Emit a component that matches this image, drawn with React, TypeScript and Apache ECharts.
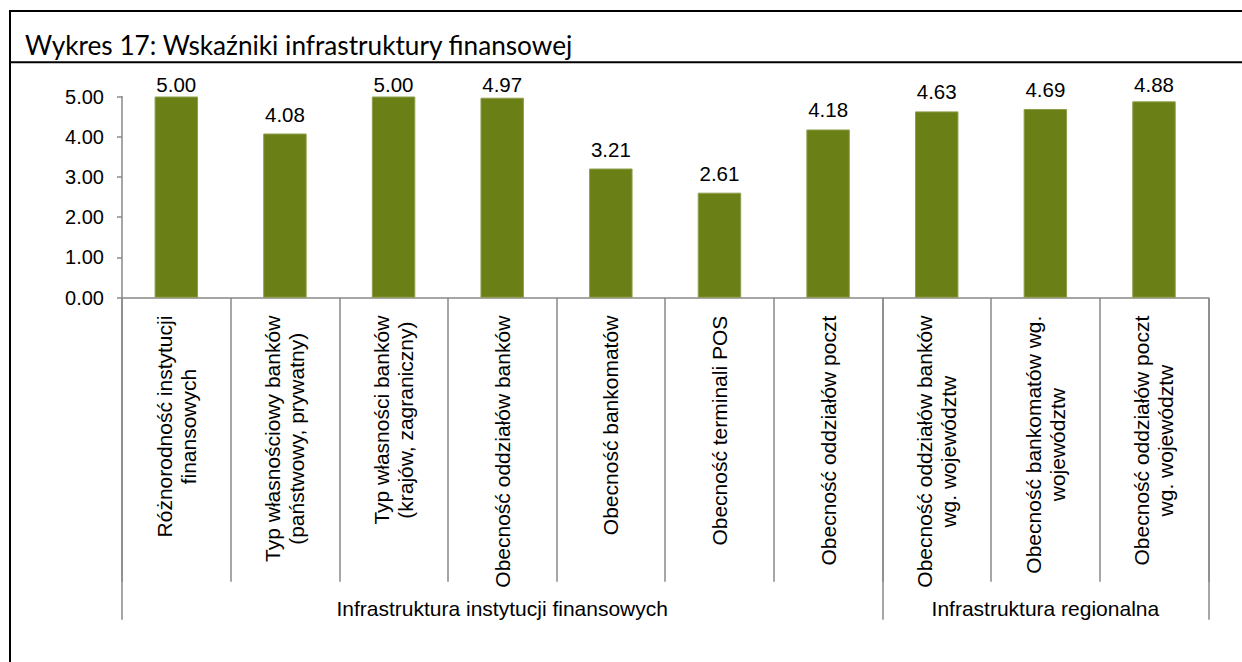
import React, { useEffect, useRef } from "react";
import * as echarts from "echarts";

const TITLE = "Wykres 17: Wskaźniki infrastruktury finansowej";

const categories: string[] = [
  "Różnorodność instytucji\nfinansowych",
  "Typ własnościowy banków\n(państwowy, prywatny)",
  "Typ własności banków\n(krajów, zagraniczny)",
  "Obecność oddziałów banków",
  "Obecność bankomatów",
  "Obecność terminali POS",
  "Obecność oddziałów poczt",
  "Obecność oddziałów banków\nwg. województw",
  "Obecność bankomatów wg.\nwojewództw",
  "Obecność oddziałów poczt\nwg. województw",
];

const values: number[] = [5.0, 4.08, 5.0, 4.97, 3.21, 2.61, 4.18, 4.63, 4.69, 4.88];

const groupNames: string[] = [
  "Infrastruktura instytucji finansowych",
  "Infrastruktura regionalna",
];
const groupSpans: number[] = [7, 3];

const yTicks = { min: 0, max: 5, interval: 1 };

const FONT = "'Liberation Sans', Arial, sans-serif";
const CAT_FONT_SIZE = 21;
const BAR_COLOR = "#6B7F17";
const AXIS_COLOR = "#888888";

function measure(text: string, size: number): number {
  const c = document.createElement("canvas");
  const ctx = c.getContext("2d");
  if (!ctx) return text.length * size * 0.5;
  ctx.font = `${size}px 'Liberation Sans', Arial, sans-serif`;
  return ctx.measureText(text).width;
}

export default function App() {
  const ref = useRef<HTMLDivElement>(null);

  useEffect(() => {
    if (!ref.current) return;
    const chart = echarts.init(ref.current, undefined, { renderer: "svg" });

    const boundaryIdx: number[] = [];
    const centers: Record<number, string> = {};
    let s = 0;
    groupSpans.forEach((span, i) => {
      boundaryIdx.push(s);
      centers[Math.round(s + (span - 1) / 2)] = groupNames[i];
      s += span;
    });

    // Centre-aligned rotated labels (lines centred on each other); a
    // per-label left padding moves each block so that its end sits just
    // below the axis line.
    const LABEL_MARGIN = 170;
    const END_GAP = 18;
    const catData = categories.map((cat) => {
      const maxW = Math.max(...cat.split("\n").map((l) => measure(l, CAT_FONT_SIZE)));
      const pad = Math.max(0, 2 * (LABEL_MARGIN - END_GAP) - maxW);
      return {
        value: cat,
        textStyle: {
          align: "center",
          padding: [0, 0, 0, pad],
          fontFamily: FONT,
          fontSize: CAT_FONT_SIZE,
          lineHeight: 24,
          color: "#000000",
        },
      };
    });

    const option: any = {
      animation: false,
      backgroundColor: "#ffffff",
      title: {
        text: TITLE,
        left: 25,
        top: 31.5,
        padding: 0,
        textStyle: {
          fontFamily: "Lato, 'Open Sans', sans-serif",
          fontSize: 26.2,
          fontWeight: "normal",
          color: "#000000",
        },
      },
      graphic: [
        {
          type: "rect",
          shape: { x: 10, y: 11, width: 1260, height: 720 },
          style: { fill: "none", stroke: "#000000", lineWidth: 2 },
          silent: true,
        },
        {
          type: "line",
          shape: { x1: 10, y1: 62.3, x2: 1242, y2: 62.3 },
          style: { stroke: "#000000", lineWidth: 2 },
          silent: true,
        },
      ],
      grid: {
        left: 122,
        right: 33.7,
        top: 96.5,
        bottom: 364.3,
        containLabel: false,
        outerBoundsMode: "none",
      },
      xAxis: [
        {
          type: "category",
          data: catData,
          position: "bottom",
          axisLine: { show: true, lineStyle: { color: AXIS_COLOR, width: 1.5 } },
          axisTick: {
            show: true,
            interval: 0,
            length: 284,
            lineStyle: { color: AXIS_COLOR, width: 1.5 },
          },
          axisLabel: {
            interval: 0,
            rotate: 90,
            align: "center",
            margin: LABEL_MARGIN,
            color: "#000000",
            fontFamily: FONT,
            fontSize: CAT_FONT_SIZE,
            lineHeight: 24,
          },
          splitLine: { show: false },
        },
        {
          type: "category",
          data: categories,
          position: "bottom",
          offset: 0,
          axisLine: { show: false },
          axisTick: {
            show: true,
            interval: (index: number) => boundaryIdx.indexOf(index) >= 0,
            length: 322,
            lineStyle: { color: AXIS_COLOR, width: 1.5 },
          },
          axisLabel: {
            interval: 0,
            margin: 300,
            color: "#000000",
            fontFamily: FONT,
            fontSize: CAT_FONT_SIZE,
            formatter: (_v: string, idx: number) => centers[idx] || "",
          },
          splitLine: { show: false },
        },
      ],
      yAxis: {
        type: "value",
        min: yTicks.min,
        max: yTicks.max,
        interval: yTicks.interval,
        axisLine: { show: true, lineStyle: { color: AXIS_COLOR, width: 1.5 } },
        axisTick: {
          show: true,
          length: 5,
          lineStyle: { color: AXIS_COLOR, width: 1.5 },
        },
        axisLabel: {
          margin: 18,
          color: "#000000",
          fontFamily: FONT,
          fontSize: 20,
          formatter: (v: number) => v.toFixed(2),
        },
        splitLine: { show: false },
      },
      series: [
        {
          type: "bar",
          xAxisIndex: 0,
          data: values,
          barWidth: "40%",
          itemStyle: { color: BAR_COLOR, borderColor: "#8E9E4A", borderWidth: 1 },
          label: {
            show: true,
            position: "top",
            distance: 9,
            color: "#000000",
            fontFamily: FONT,
            fontSize: 20.5,
            formatter: (p: any) => Number(p.value).toFixed(2),
          },
          labelLayout: (params: any) => {
            const minTop = 73.5;
            const r = params.labelRect;
            if (r && r.y < minTop) return { dy: minTop - r.y };
            return {};
          },
        },
      ],
    };

    chart.setOption(option);
    return () => {
      chart.dispose();
    };
  }, []);

  return (
    <div
      ref={ref}
      style={{
        position: "absolute",
        left: 0,
        top: 0,
        width: 1242,
        height: 662,
        background: "#ffffff",
      }}
    />
  );
}
